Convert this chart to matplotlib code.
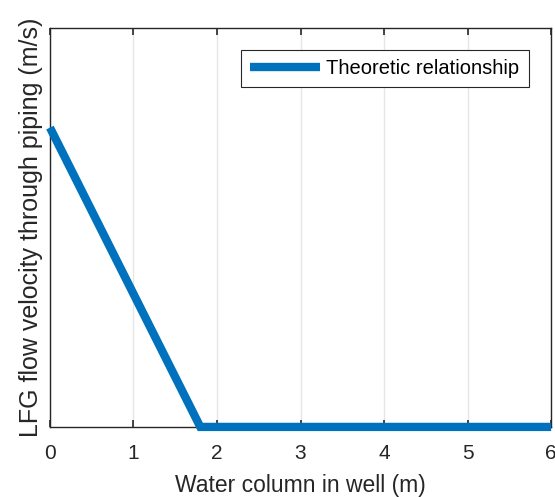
import matplotlib
matplotlib.use("Agg")
import matplotlib.pyplot as plt

plt.rcParams["font.family"] = ["Liberation Sans", "DejaVu Sans"]

# ── data ──────────────────────────────────────────────────────────
water_column = [0.0, 1.8, 6.0]
velocity = [0.75, 0.0, 0.0]
x_ticks = [0, 1, 2, 3, 4, 5, 6]

# ── plot ──────────────────────────────────────────────────────────
fig = plt.figure(figsize=(5.55, 4.97), dpi=100)
ax = fig.add_axes([0.090, 0.141, 0.903, 0.803])

ax.plot(water_column, velocity, color="#0072BD", lw=6, solid_capstyle="butt",
        solid_joinstyle="miter", label="Theoretic relationship", clip_on=False, zorder=3)

ax.set_xlim(0, 6)
ax.set_ylim(0, 1)
ax.set_xticks(x_ticks)
ax.set_yticks([])
ax.grid(axis="x", color="#e6e6e6", lw=1)
ax.set_axisbelow(True)

for s in ax.spines.values():
    s.set_color("#262626")
    s.set_linewidth(1.0)

ax.tick_params(axis="x", direction="in", length=5, width=1.2, top=True,
               labelsize=15, colors="#262626", pad=12)

ax.set_xlabel("Water column in well (m)", fontsize=16.5, color="#262626", labelpad=8)
ax.set_ylabel("LFG flow velocity through piping (m/s)", fontsize=18, color="#262626", labelpad=5)

leg = ax.legend(loc="upper right", bbox_to_anchor=(0.955, 0.945), borderaxespad=0,
                fontsize=14.5, handlelength=3.5, fancybox=False, framealpha=1,
                borderpad=0.45, edgecolor="#262626", handletextpad=0.3)
leg.get_frame().set_linewidth(0.8)

fig.savefig("out.png", dpi=100)
